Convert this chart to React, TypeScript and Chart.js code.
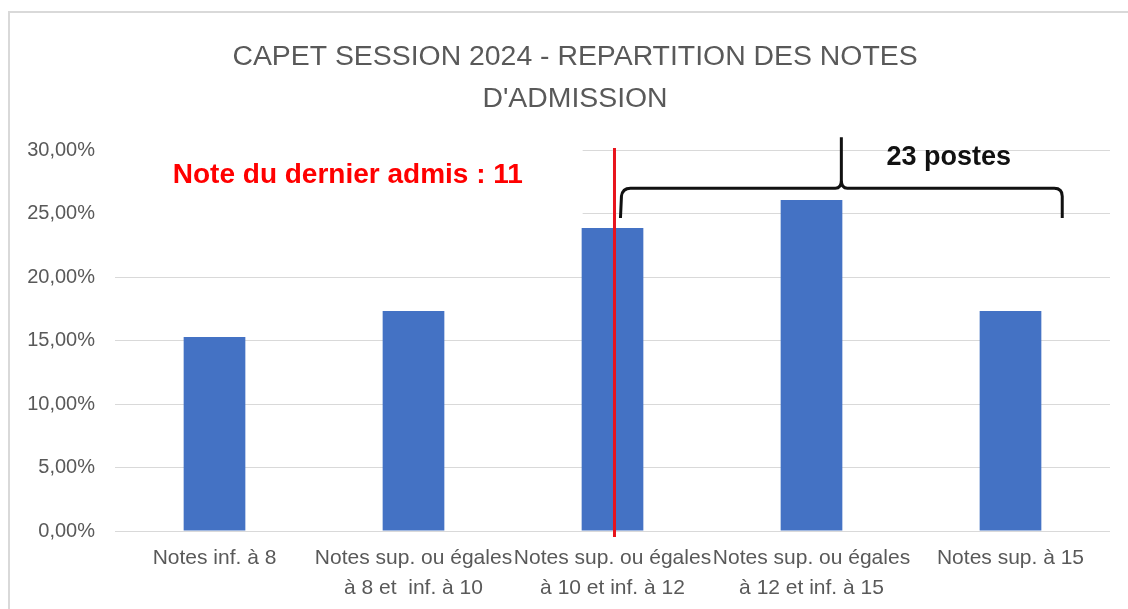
import React, { useEffect, useRef } from 'react';
import { Chart, registerables } from 'chart.js';

Chart.register(...registerables);

// ---- data ----
const categories: string[][] = [
  ['Notes inf. à 8'],
  ['Notes sup. ou égales', 'à 8 et  inf. à 10'],
  ['Notes sup. ou égales', 'à 10 et inf. à 12'],
  ['Notes sup. ou égales', 'à 12 et inf. à 15'],
  ['Notes sup. à 15'],
];
const shares: number[] = [15.28, 17.32, 23.86, 26.06, 17.32];
const yMin = 0;
const yMax = 30;
const yStep = 5;
const titleLines: string[] = ['CAPET SESSION 2024 - REPARTITION DES NOTES', "D'ADMISSION"];
const cutoffText = 'Note du dernier admis : 11';
const postesText = '23 postes';

// annotation anchors, in data units (category index / percent)
const cutoffIndex = 2.01;
const braceFrom = 2.04;
const braceTo = 4.26;
const braceMid = 3.15;
const braceLevel = 27.0;
const braceHook = 24.65;
const braceTop = 31.0;
const cutoffTextAt = { x: 0.67, y: 28.05 };
const postesTextAt = { x: 3.69, y: 29.4 };
const maskTo = { x: 1.85, yTop: 31.2, yBottom: 23.1 };

const GREY = '#595959';
const FONT = "'Liberation Sans', Arial, sans-serif";

const overlay = {
  id: 'overlay',
  beforeDraw(chart: any) {
    const { ctx, width, height } = chart;
    ctx.save();
    ctx.fillStyle = '#ffffff';
    ctx.fillRect(0, 0, width, height);
    ctx.strokeStyle = '#d9d9d9';
    ctx.lineWidth = 2;
    ctx.beginPath();
    ctx.moveTo(9, height);
    ctx.lineTo(9, 12);
    ctx.lineTo(width, 12);
    ctx.stroke();
    ctx.restore();
  },
  beforeDatasetsDraw(chart: any) {
    const { ctx, chartArea } = chart;
    const xs = chart.scales.x;
    const ys = chart.scales.y;
    ctx.save();
    ctx.fillStyle = '#ffffff';
    const top = ys.getPixelForValue(maskTo.yTop);
    const bottom = ys.getPixelForValue(maskTo.yBottom);
    ctx.fillRect(chartArea.left - 2, top, xs.getPixelForValue(maskTo.x) - chartArea.left + 2, bottom - top);
    ctx.restore();
  },
  afterDatasetsDraw(chart: any) {
    const { ctx } = chart;
    const xs = chart.scales.x;
    const ys = chart.scales.y;
    ctx.save();

    // red cut-off line
    const rx = xs.getPixelForValue(cutoffIndex);
    ctx.strokeStyle = '#e8141c';
    ctx.lineWidth = 3;
    ctx.beginPath();
    ctx.moveTo(rx, ys.getPixelForValue(yMax) - 2);
    ctx.lineTo(rx, ys.getPixelForValue(yMin) + 6);
    ctx.stroke();

    // brace
    const x0 = xs.getPixelForValue(braceFrom);
    const x1 = xs.getPixelForValue(braceTo);
    const xm = xs.getPixelForValue(braceMid);
    const yl = ys.getPixelForValue(braceLevel);
    const yh = ys.getPixelForValue(braceHook);
    const yt = ys.getPixelForValue(braceTop);
    const r = 8;
    ctx.strokeStyle = '#111111';
    ctx.lineWidth = 3;
    ctx.lineJoin = 'round';
    ctx.beginPath();
    ctx.moveTo(x0, yh);
    ctx.lineTo(x0 + 1, yl + r);
    ctx.quadraticCurveTo(x0 + 2, yl, x0 + r + 2, yl);
    ctx.lineTo(xm - 6, yl);
    ctx.quadraticCurveTo(xm, yl, xm, yl - 8);
    ctx.lineTo(xm, yt);
    ctx.moveTo(xm, yl - 8);
    ctx.quadraticCurveTo(xm, yl, xm + 6, yl);
    ctx.lineTo(x1 - r, yl);
    ctx.quadraticCurveTo(x1, yl, x1, yl + r);
    ctx.lineTo(x1, yh);
    ctx.stroke();

    // texts
    ctx.textAlign = 'center';
    ctx.textBaseline = 'middle';
    ctx.fillStyle = '#ff0000';
    ctx.font = `bold 28px ${FONT}`;
    ctx.fillText(cutoffText, xs.getPixelForValue(cutoffTextAt.x), ys.getPixelForValue(cutoffTextAt.y));
    ctx.fillStyle = '#111111';
    ctx.font = `bold 27px ${FONT}`;
    ctx.fillText(postesText, xs.getPixelForValue(postesTextAt.x), ys.getPixelForValue(postesTextAt.y));
    ctx.restore();
  },
};

export default function App() {
  const ref = useRef<HTMLCanvasElement | null>(null);
  useEffect(() => {
    document.body.style.margin = '0';
    const canvas = ref.current;
    if (!canvas) return;
    const chart = new Chart(canvas, {
      type: 'bar',
      data: {
        labels: categories,
        datasets: [
          {
            data: shares,
            backgroundColor: '#4472c4',
            borderWidth: 0,
            categoryPercentage: 1,
            barPercentage: 0.31,
          },
        ],
      },
      options: {
        responsive: false,
        animation: false,
        devicePixelRatio: 1,
        layout: { padding: { top: 36, right: 0, bottom: 0, left: 22 } },
        plugins: {
          legend: { display: false },
          tooltip: { enabled: false },
          title: {
            display: true,
            text: titleLines,
            color: GREY,
            font: { family: FONT, size: 28.4, weight: 'normal', lineHeight: 1.48 },
            padding: { top: 0, bottom: 30 },
          },
        },
        scales: {
          x: {
            grid: { display: false },
            border: { display: false },
            ticks: {
              color: GREY,
              font: { family: FONT, size: 21, lineHeight: 1.43 },
              maxRotation: 0,
              minRotation: 0,
              autoSkip: false,
              padding: 4,
            },
            afterFit: (s: any) => {
              s.height = 78;
            },
          },
          y: {
            min: yMin,
            max: yMax,
            grid: { color: '#d9d9d9', lineWidth: 1, drawTicks: false },
            border: { display: false },
            ticks: {
              stepSize: yStep,
              color: GREY,
              font: { family: FONT, size: 20 },
              padding: 20,
              callback: (v: any) => Number(v).toFixed(2).replace('.', ',') + '%',
            },
            afterFit: (s: any) => {
              s.width = 93;
            },
          },
          spacer: {
            position: 'right',
            display: true,
            grid: { display: false, drawTicks: false },
            border: { display: false },
            ticks: { display: false },
            afterFit: (s: any) => {
              s.width = 18;
            },
          },
        },
      },
      plugins: [overlay],
    });
    return () => chart.destroy();
  }, []);
  return <canvas ref={ref} width={1128} height={609} style={{ display: 'block' }} />;
}
